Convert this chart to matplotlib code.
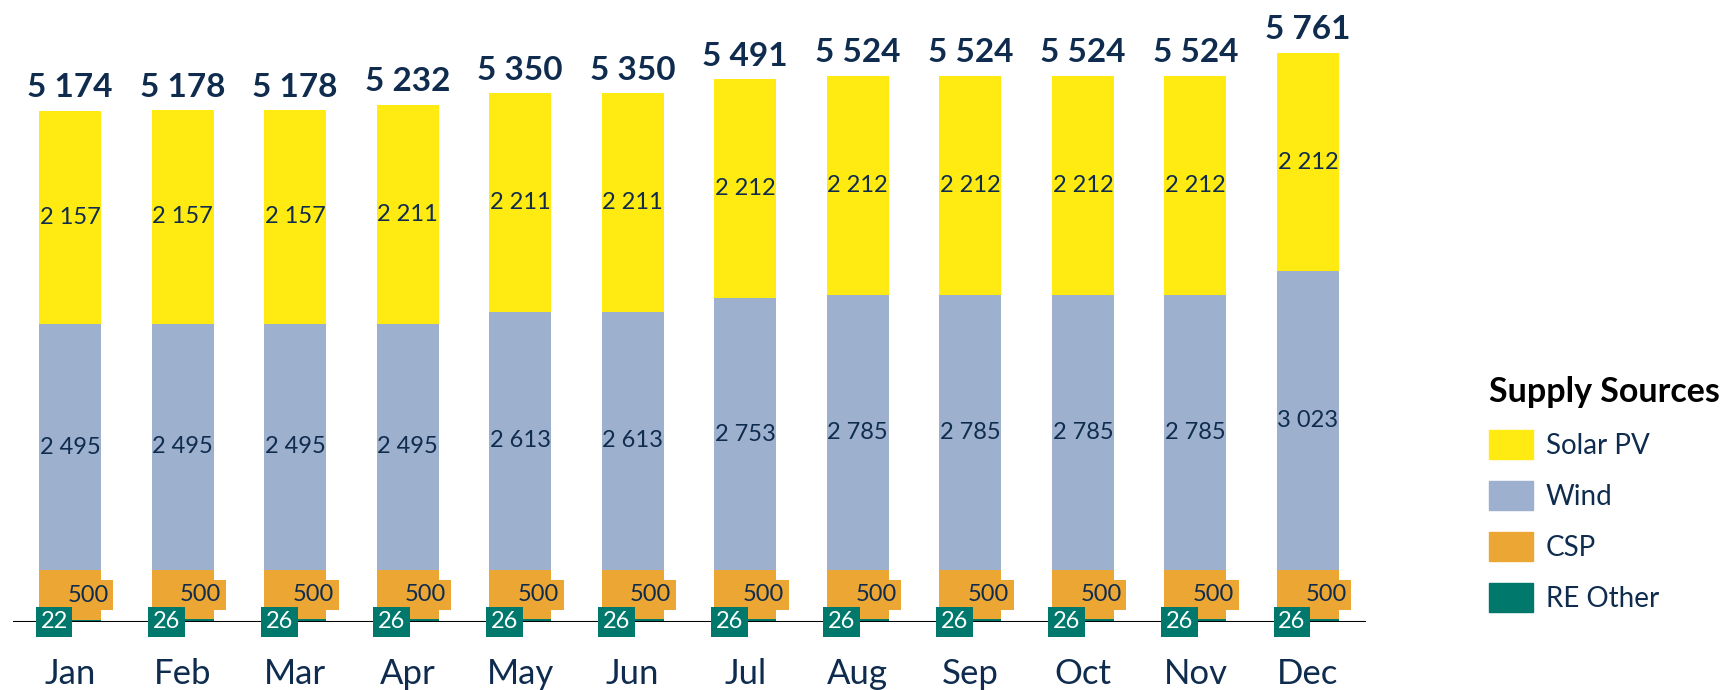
import numpy as np
import matplotlib.pyplot as plt
from matplotlib.patches import Patch

plt.rcParams['font.family'] = ['Lato', 'DejaVu Sans']

# Monthly supply by source
months = ['Jan', 'Feb', 'Mar', 'Apr', 'May', 'Jun', 'Jul', 'Aug', 'Sep', 'Oct', 'Nov', 'Dec']
re_other = [22, 26, 26, 26, 26, 26, 26, 26, 26, 26, 26, 26]
csp = [500, 500, 500, 500, 500, 500, 500, 500, 500, 500, 500, 500]
wind = [2495, 2495, 2495, 2495, 2613, 2613, 2753, 2785, 2785, 2785, 2785, 3023]
solar = [2157, 2157, 2157, 2211, 2211, 2211, 2212, 2212, 2212, 2212, 2212, 2212]
totals = [5174, 5178, 5178, 5232, 5350, 5350, 5491, 5524, 5524, 5524, 5524, 5761]

c_solar = '#FFEA12'
c_wind = '#9DB0CE'
c_csp = '#ECA633'
c_other = '#00796C'
navy = '#0F2C4F'


def fmt(v):
    return f'{v:,}'.replace(',', ' ')


fig = plt.figure(figsize=(17.3, 6.9), dpi=100)
ax = fig.add_axes([13 / 1730, 68 / 690, 1353 / 1730, 592 / 690])

x = np.arange(len(months))
w = 0.55
b1 = np.array(re_other)
b2 = b1 + np.array(csp)
b3 = b2 + np.array(wind)

ax.bar(x, re_other, w, color=c_other, zorder=2)
ax.bar(x, csp, w, bottom=b1, color=c_csp, zorder=2)
ax.bar(x, wind, w, bottom=b2, color=c_wind, zorder=2)
ax.bar(x, solar, w, bottom=b3, color=c_solar, zorder=2)

for i in range(len(months)):
    # solar and wind labels in the middle of their segments
    ax.text(x[i], b3[i] + solar[i] / 2, fmt(solar[i]), ha='center', va='center',
            fontsize=17, color=navy, zorder=5)
    ax.text(x[i], b2[i] + wind[i] / 2, fmt(wind[i]), ha='center', va='center',
            fontsize=17, color=navy, zorder=5)
    # CSP label with orange box, shifted right
    ax.annotate(fmt(csp[i]), xy=(x[i], b1[i] + csp[i] / 2), xytext=(13, 0),
                textcoords='offset points', ha='center', va='center',
                fontsize=17, color=navy, zorder=5,
                bbox=dict(boxstyle='square,pad=0.2', fc=c_csp, ec='none'))
    # RE other label with teal box, shifted left
    ax.annotate(fmt(re_other[i]), xy=(x[i], 0), xytext=(-11.5, 0),
                textcoords='offset points', ha='center', va='center',
                fontsize=17, color='white', zorder=6,
                bbox=dict(boxstyle='square,pad=0.2', fc=c_other, ec='none'))
    # totals on top
    ax.annotate(fmt(totals[i]), xy=(x[i], totals[i]), xytext=(0, 10),
                textcoords='offset points', ha='center', va='baseline',
                fontsize=24, fontweight='bold', color=navy)

ax.axhline(0, color='black', lw=1.5, zorder=3)
ax.set_xlim(-0.507, 11.516)
ax.set_ylim(0, 5992)
ax.set_xticks(x)
ax.set_xticklabels(months, fontsize=25, color=navy)
ax.tick_params(axis='x', length=0, pad=26)
ax.set_yticks([])
for s in ax.spines.values():
    s.set_visible(False)

handles = [Patch(color=c_solar, label='Solar PV'),
           Patch(color=c_wind, label='Wind'),
           Patch(color=c_csp, label='CSP'),
           Patch(color=c_other, label='RE Other')]
leg = fig.legend(handles=handles, loc='upper left',
                 bbox_to_anchor=(1489 / 1730, 1 - 376 / 690),
                 frameon=False, fontsize=20, labelcolor=navy,
                 title='Supply Sources', alignment='left',
                 title_fontproperties={'size': 24.5, 'weight': 'bold'},
                 handlelength=1.6, handleheight=1.25, handletextpad=0.45,
                 labelspacing=0.78, borderpad=0, borderaxespad=0)
leg.get_title().set_color('black')

fig.savefig('out.png', dpi=100)
